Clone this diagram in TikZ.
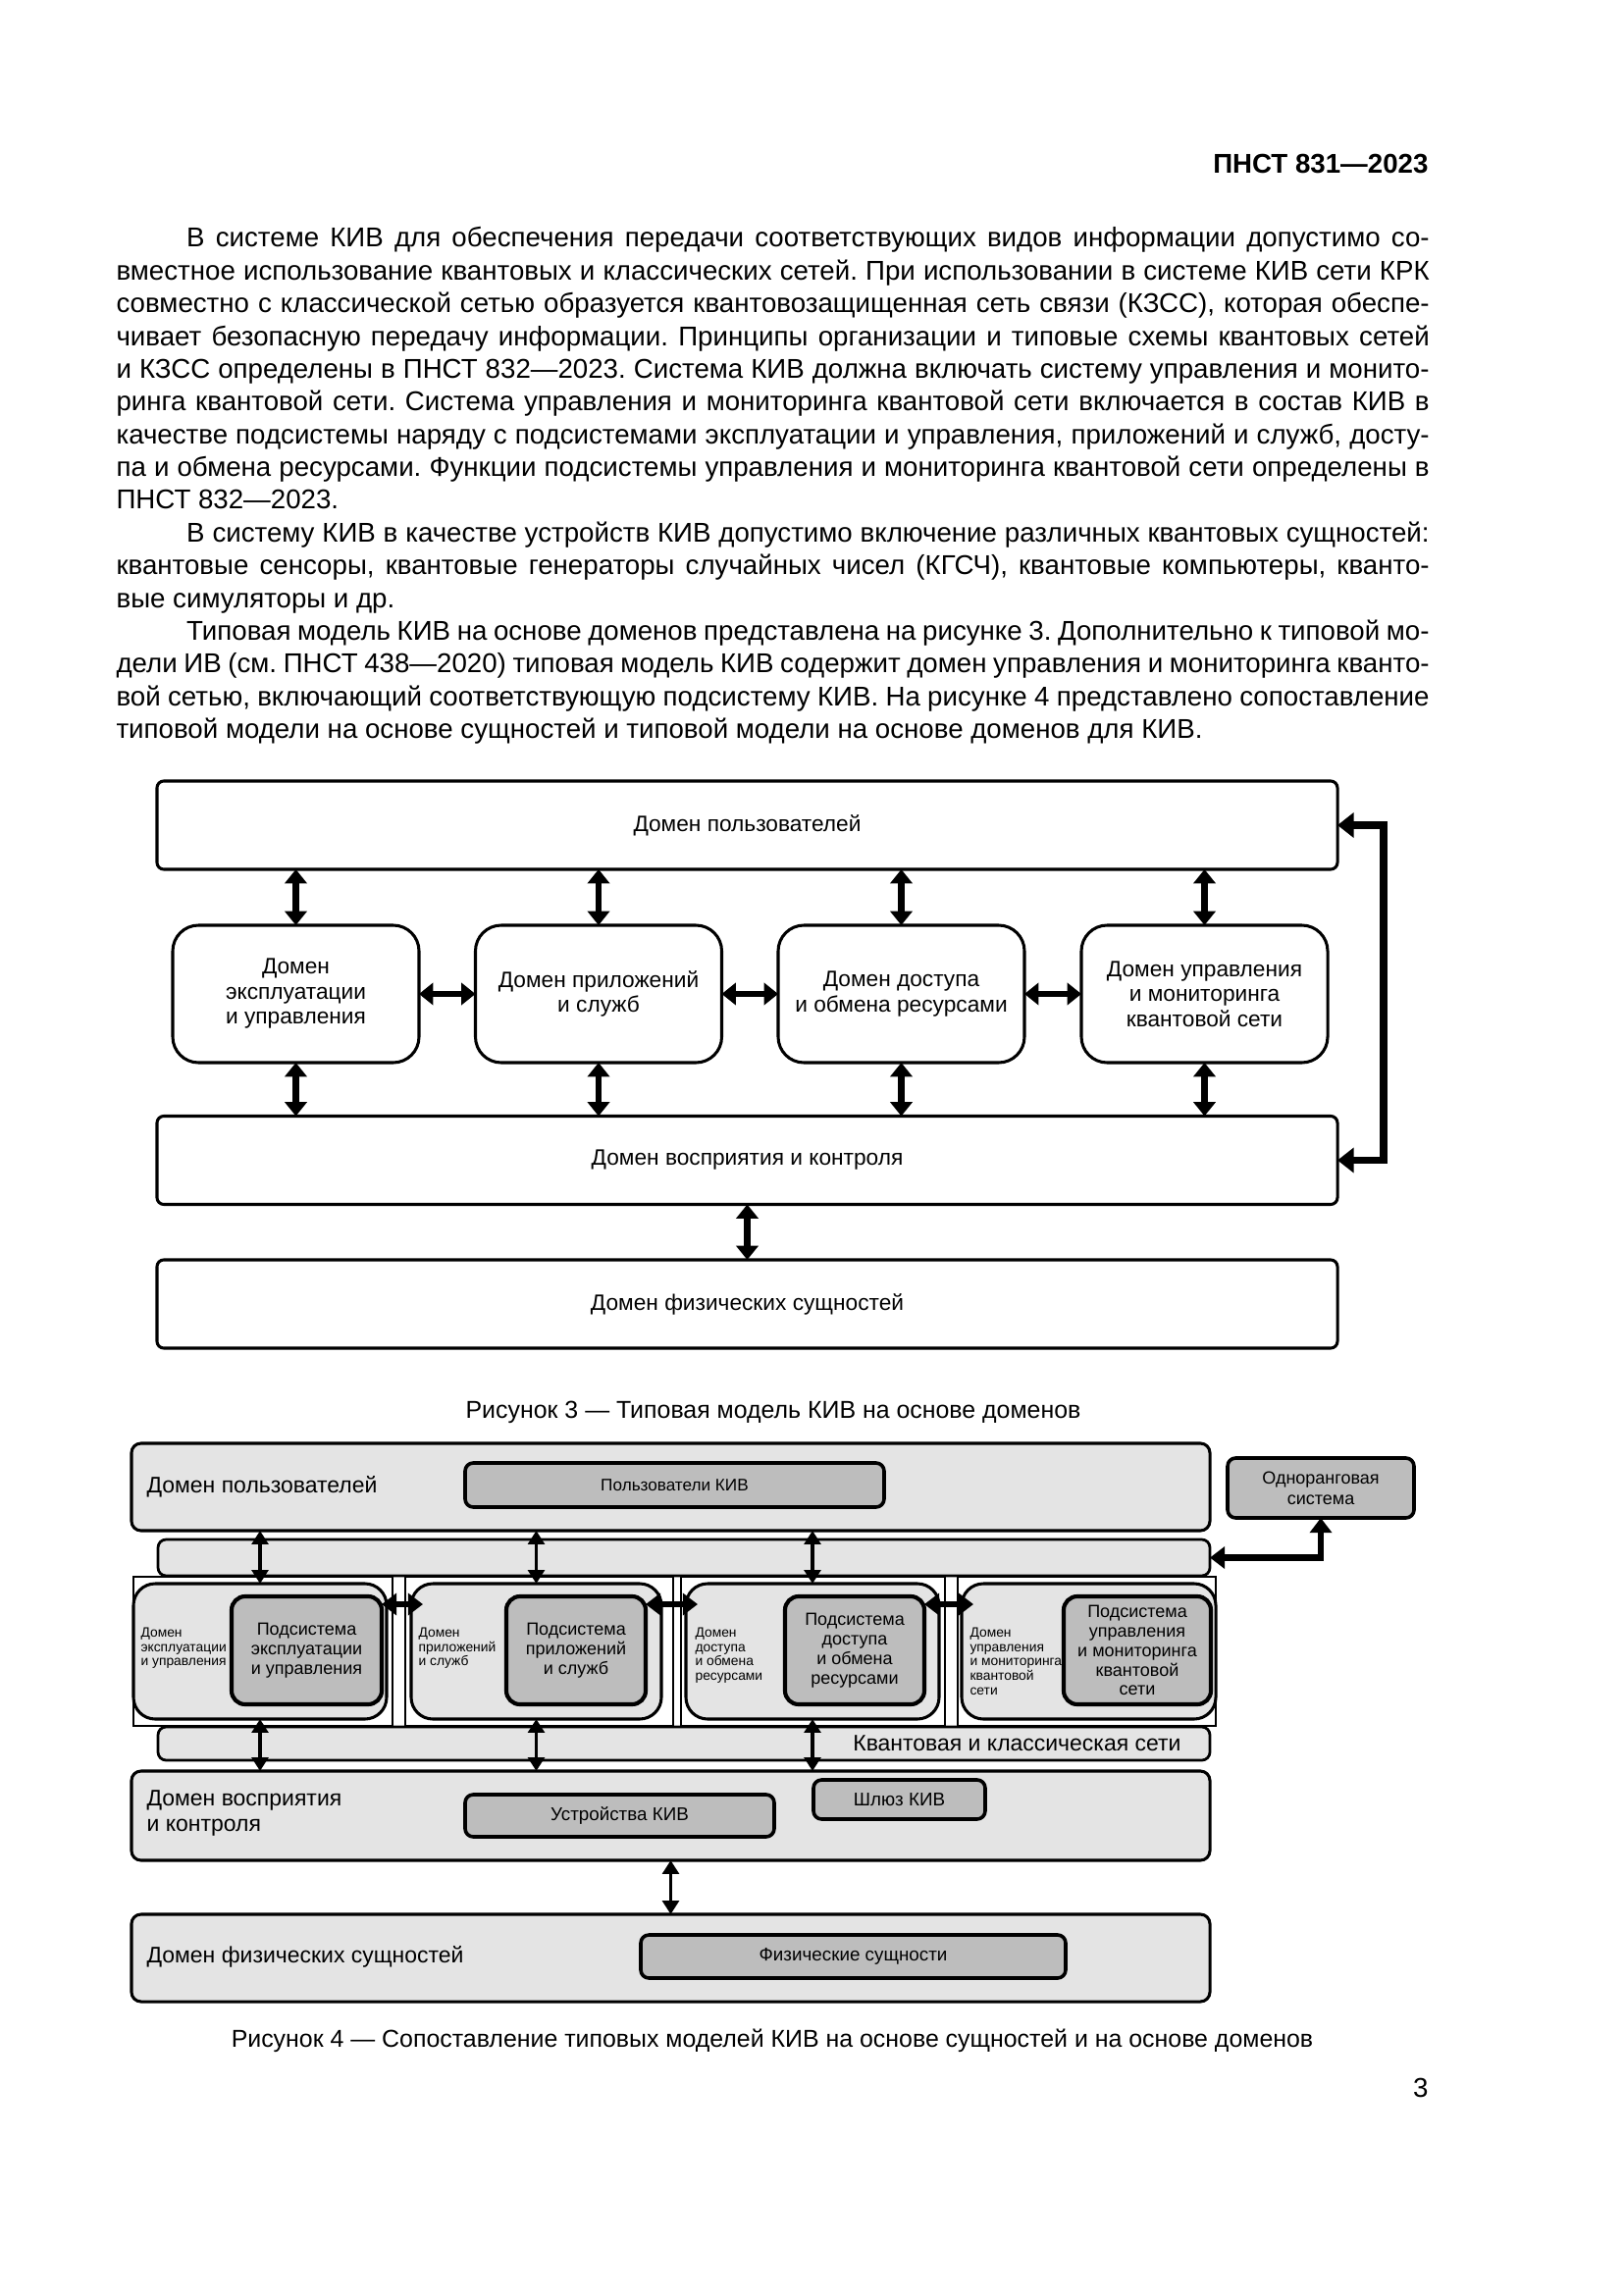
\documentclass[tikz,border=0pt]{standalone}
\usepackage{fontspec}
\setmainfont{Liberation Sans}
\usetikzlibrary{arrows.meta,calc}
\newdimen\PX \PX=0.127mm
\definecolor{lg}{HTML}{E4E4E4}
\definecolor{dg}{HTML}{BDBDBD}
\newcommand\bodyfirst[1]{\hbox to\hsize{\strut\kern9.1mm #1}}
\newcommand\bodyjust[1]{\hbox to\hsize{\strut #1}}
\newcommand\bodylast[1]{\hbox{\strut #1}}
\frenchspacing
\begin{document}
\begin{tikzpicture}[x=0.127mm,y=-0.127mm,
  b3/.style={draw, line width=1.1pt, fill=white, inner sep=0, outer sep=0, align=center,
    font=\fontsize{8.2pt}{9.2pt}\selectfont},
  wide3/.style={b3, rounded corners=2.5pt, minimum width=1203*\PX, minimum height=90*\PX},
  mid3/.style={b3, rounded corners=9.5pt, minimum width=251*\PX, minimum height=140*\PX},
  a3/.style={line width=2.2pt, arrows={Triangle[length=5.2pt,width=8pt]-Triangle[length=5.2pt,width=8pt]}},
  fb3/.style={line width=2.6pt, arrows={Triangle[length=6pt,width=9pt]-Triangle[length=6pt,width=9pt]}},
  sz/.style 2 args={minimum width=#1*\PX, minimum height=#2*\PX},
  dom4/.style={draw, line width=1.1pt, fill=lg, rounded corners=3.5pt, inner sep=0, outer sep=0},
  bar4/.style={draw, line width=1pt, fill=lg, rounded corners=3pt, inner sep=0, outer sep=0},
  frame4/.style={draw, line width=0.9pt, fill=white, inner sep=0, outer sep=0},
  cont4/.style={draw, line width=1.1pt, fill=lg, rounded corners=8pt, inner sep=0, outer sep=0},
  sub4/.style={draw, line width=1.5pt, fill=dg, rounded corners=5pt, inner sep=0, outer sep=0, align=center,
    font=\fontsize{6.5pt}{7.2pt}\selectfont},
  gbox/.style={draw, line width=1.3pt, fill=dg, rounded corners=3pt, inner sep=0, outer sep=0, align=center,
    font=\fontsize{6.8pt}{7.6pt}\selectfont},
  clab/.style={anchor=north west, inner sep=0, align=left, font=\fontsize{5pt}{5.4pt}\selectfont},
  mlab/.style={inner sep=0, align=left, font=\fontsize{8.3pt}{9.4pt}\selectfont},
  av4/.style={line width=1.4pt, arrows={Triangle[length=5pt,width=6pt]-Triangle[length=5pt,width=6pt]}},
  ah4/.style={line width=2.4pt, arrows={Triangle[length=5.5pt,width=8pt]-Triangle[length=5.5pt,width=8pt]}},
  capt/.style={anchor=base, inner sep=0, font=\fontsize{9pt}{11pt}\selectfont}
]
\fill[white] (0,0) rectangle (1654,2339);
\useasboundingbox (0,0) rectangle (1654,2339);

% header
\node[anchor=base east, inner sep=0, font=\fontsize{10pt}{12pt}\selectfont\bfseries] (hdr) at (1456,177) {ПНСТ 831—2023};

% body text
\node[anchor=north west, inner sep=0] (body) at (118,228) {\vbox{\fontsize{10pt}{12.06pt}\selectfont\frenchspacing\hsize=169.93mm
\bodyfirst{В системе КИВ для обеспечения передачи соответствующих видов информации допустимо со-}
\bodyjust{вместное использование квантовых и классических сетей. При использовании в системе КИВ сети КРК}
\bodyjust{совместно с классической сетью образуется квантовозащищенная сеть связи (КЗСС), которая обеспе-}
\bodyjust{чивает безопасную передачу информации. Принципы организации и типовые схемы квантовых сетей}
\bodyjust{и КЗСС определены в ПНСТ 832—2023. Система КИВ должна включать систему управления и монито-}
\bodyjust{ринга квантовой сети. Система управления и мониторинга квантовой сети включается в состав КИВ в}
\bodyjust{качестве подсистемы наряду с подсистемами эксплуатации и управления, приложений и служб, досту-}
\bodyjust{па и обмена ресурсами. Функции подсистемы управления и мониторинга квантовой сети определены в}
\bodylast{ПНСТ 832—2023.}
\bodyfirst{В систему КИВ в качестве устройств КИВ допустимо включение различных квантовых сущностей:}
\bodyjust{квантовые сенсоры, квантовые генераторы случайных чисел (КГСЧ), квантовые компьютеры, кванто-}
\bodylast{вые симуляторы и др.}
\bodyfirst{Типовая модель КИВ на основе доменов представлена на рисунке 3. Дополнительно к типовой мо-}
\bodyjust{дели ИВ (см. ПНСТ 438—2020) типовая модель КИВ содержит домен управления и мониторинга кванто-}
\bodyjust{вой сетью, включающий соответствующую подсистему КИВ. На рисунке 4 представлено сопоставление}
\bodylast{типовой модели на основе сущностей и типовой модели на основе доменов для КИВ.}
}};

% ---------- Figure 3 ----------
\node[wide3] (u3) at (761.5,841) {Домен пользователей};
\node[mid3] (m1) at (301.5,1013) {Домен\\эксплуатации\\и управления};
\node[mid3] (m2) at (610,1013) {Домен приложений\\и служб};
\node[mid3] (m3) at (918.5,1013) {Домен доступа\\и обмена ресурсами};
\node[mid3] (m4) at (1227.5,1013) {Домен управления\\и мониторинга\\квантовой сети};
\node[wide3] (p3) at (761.5,1182.5) {Домен восприятия и контроля};
\node[wide3] (f3) at (761.5,1329) {Домен физических сущностей};
\foreach \i in {1,...,4}{
  \draw[a3] (u3.south -| m\i.north) -- (m\i.north);
  \draw[a3] (m\i.south) -- (m\i.south |- p3.north);
}
\draw[a3] (m1.east) -- (m2.west);
\draw[a3] (m2.east) -- (m3.west);
\draw[a3] (m3.east) -- (m4.west);
\draw[a3] (p3.south) -- (f3.north);
\coordinate (fb) at (1410,841);
\draw[fb3] (u3.east) -- (fb) |- (p3.east);
\node[capt] (cap3) at (788,1445) {Рисунок 3 — Типовая модель КИВ на основе доменов};

% ---------- Figure 4 ----------
\node[bar4, sz={1072}{37}] (ib) at (697,1587.5) {};
\node[bar4, sz={1072}{34}] (nb) at (697,1777) {};
\node[frame4, sz={264}{152}] (f41) at (268,1683) {};
\node[frame4, sz={273}{152}] (f42) at (549.5,1683) {};
\node[frame4, sz={269}{152}] (f43) at (828.5,1683) {};
\node[frame4, sz={263}{152}] (f44) at (1107.5,1683) {};
\node[cont4, sz={258}{138}] (c1) at (265,1683) {};
\node[cont4, sz={255}{138}] (c2) at (546.5,1683) {};
\node[cont4, sz={258}{138}] (c3) at (828,1683) {};
\node[cont4, sz={259}{138}] (c4) at (1109.5,1683) {};
\node[sub4, sz={153}{110}] (s1) at (312.5,1682) {Подсистема\\эксплуатации\\и управления};
\node[sub4, sz={142}{110}] (s2) at (587,1682) {Подсистема\\приложений\\и служб};
\node[sub4, sz={142}{110}] (s3) at (871,1682) {Подсистема\\доступа\\и обмена\\ресурсами};
\node[sub4, sz={150}{110}] (s4) at (1159,1682) {Подсистема\\управления\\и мониторинга\\квантовой\\сети};
\node[clab] (l1) at ($(c1.north west)+(7,44)$) {Домен\\эксплуатации\\и управления};
\node[clab] (l2) at ($(c2.north west)+(7,44)$) {Домен\\приложений\\и служб};
\node[clab] (l3) at ($(c3.north west)+(9,44)$) {Домен\\доступа\\и обмена\\ресурсами};
\node[clab] (l4) at ($(c4.north west)+(8,44)$) {Домен\\управления\\и мониторинга\\квантовой\\сети};

\node[dom4, sz={1099}{89}] (ud) at (683.5,1515.5) {};
\node[mlab, anchor=west] (lud) at (149,1515) {Домен пользователей};
\node[gbox, sz={427}{45}, font=\fontsize{6.2pt}{7pt}\selectfont] (pk) at (687.5,1513.5) {Пользователи КИВ};
\node[gbox, sz={190}{61}, font=\fontsize{6.5pt}{7.6pt}\selectfont] (odn) at (1346,1516.5) {Одноранговая\\система};

\node[dom4, sz={1099}{91}] (pd) at (683.5,1850.5) {};
\node[mlab, anchor=west] (lpd) at (149,1848) {Домен восприятия\\и контроля};
\node[gbox, sz={315}{43}] (ust) at (631.5,1850.5) {Устройства КИВ};
\node[gbox, sz={175}{40}] (shl) at (916.5,1834) {Шлюз КИВ};

\node[dom4, sz={1099}{89}] (phd) at (683.5,1995.5) {};
\node[mlab, anchor=west] (lph) at (149,1994) {Домен физических сущностей};
\node[gbox, sz={433}{44}] (fiz) at (869.5,1994) {Физические сущности};

\node[mlab, anchor=east] (lnb) at (1204,1777) {Квантовая и классическая сети};

\foreach \i in {1,2,3}{
  \draw[av4] (ud.south -| c\i.north) -- (c\i.north);
  \draw[av4] (c\i.south) -- (c\i.south |- pd.north);
}
\coordinate (ha) at (0,1635);
\draw[ah4] (s1.east |- ha) -- ($(c2.west |- ha)+(12,0)$);
\draw[ah4] (s2.east |- ha) -- ($(c3.west |- ha)+(12,0)$);
\draw[ah4] (s3.east |- ha) -- ($(c4.west |- ha)+(12,0)$);
\draw[ah4] (odn.south) |- (ib.east);
\draw[av4] (pd.south) -- (phd.north);

\node[capt] (cap4) at (787,2086) {Рисунок 4 — Сопоставление типовых моделей КИВ на основе сущностей и на основе доменов};
\node[anchor=base east, inner sep=0, font=\fontsize{10pt}{12pt}\selectfont] (pg) at (1456,2137) {3};
\end{tikzpicture}
\end{document}
